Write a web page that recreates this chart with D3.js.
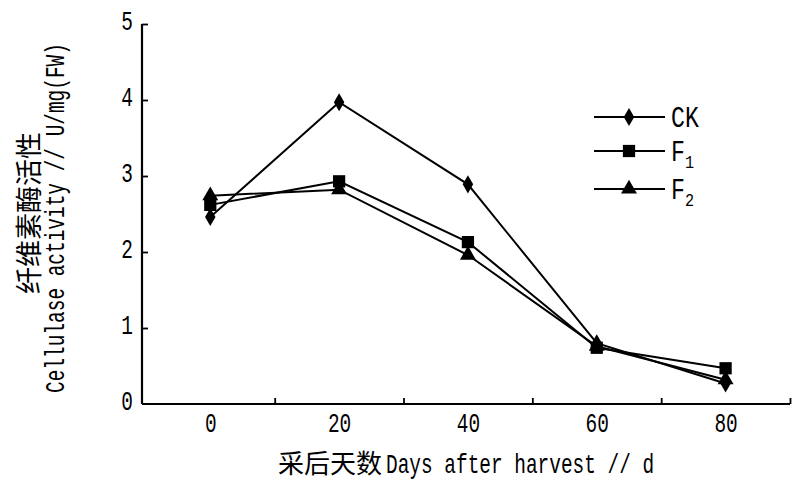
<!DOCTYPE html>
<html>
<head>
<meta charset="utf-8">
<script src="https://cdn.jsdelivr.net/npm/d3@7"></script>
<style>
  body { margin: 0; background: #fff; }
  svg { display: block; }
  text { fill: #000; }
</style>
</head>
<body>
<svg width="809" height="482"></svg>
<script>
let days = [0, 20, 40, 60, 80];
let ckValues = [2.46, 3.97, 2.89, 0.8, 0.27];
let f1Values = [2.62, 2.93, 2.13, 0.74, 0.47];
let f2Values = [2.74, 2.82, 1.96, 0.76, 0.32];
let xTickLabels = [0, 20, 40, 60, 80];
let xMinorTicks = [10, 30, 50, 70, 90];
let yTickLabels = [0, 1, 2, 3, 4, 5];

let series = [
  { name: "CK", sub: "", values: ckValues, symbol: d3.symbolDiamond, size: 95 },
  { name: "F", sub: "1", values: f1Values, symbol: d3.symbolSquare, size: 150 },
  { name: "F", sub: "2", values: f2Values, symbol: d3.symbolTriangle, size: 110 }
];

// the latin text in the original is a tall, narrow half-width face
let mono = "'Liberation Mono', 'DejaVu Sans Mono', monospace";
let cjk = "'Noto Sans CJK SC', sans-serif";
let squeeze = 0.72;
let fs = 27;

let svg = d3.select("svg");

let x = d3.scaleLinear().domain([-10.6, 90]).range([142, 790]);
let y = d3.scaleLinear().domain([0, 5]).range([404, 24]);

// x axis: labelled ticks without marks, plus small inward marks in between
let xAxis = svg.append("g").attr("transform", "translate(0,404)")
  .call(d3.axisBottom(x).tickValues(xTickLabels).tickSize(0).tickFormat(d3.format("d")));
xAxis.select(".domain").attr("d", "M142,0H790").attr("stroke-width", 2.2);
xAxis.selectAll("text")
  .attr("font-family", mono).attr("font-size", fs)
  .attr("y", 28).attr("dy", 0)
  .attr("transform", "scale(" + squeeze + ",1)");

let xMinor = svg.append("g").attr("transform", "translate(0,404)")
  .call(d3.axisTop(x).tickValues(xMinorTicks).tickSize(6).tickFormat(""));
xMinor.select(".domain").remove();
xMinor.selectAll("line").attr("stroke-width", 1.8);

// y axis with short inward ticks
let yAxis = svg.append("g").attr("transform", "translate(142,0)")
  .call(d3.axisRight(y).tickValues(yTickLabels).tickSizeInner(6).tickSizeOuter(0).tickFormat(d3.format("d")));
yAxis.select(".domain").attr("d", "M0,404V24").attr("stroke-width", 2.2);
yAxis.selectAll("line").attr("stroke-width", 1.8);
yAxis.selectAll(".tick").filter(d => d === 0).select("line").remove();
yAxis.selectAll("text")
  .attr("text-anchor", "end").attr("x", -9 / squeeze).attr("dy", 0).attr("y", 5)
  .attr("font-family", mono).attr("font-size", fs)
  .attr("transform", "scale(" + squeeze + ",1)");

// axis titles
svg.append("text")
  .attr("transform", "translate(39,213) rotate(-90)")
  .attr("text-anchor", "middle")
  .attr("font-family", cjk).attr("font-size", 27)
  .text("纤维素酶活性");
svg.append("text")
  .attr("transform", "translate(64,218) rotate(-90) scale(" + squeeze + ",1)")
  .attr("text-anchor", "middle")
  .attr("font-family", mono).attr("font-size", fs)
  .text("Cellulase activity // U/mg(FW)");

svg.append("text")
  .attr("x", 278).attr("y", 473)
  .attr("font-family", cjk).attr("font-size", 26)
  .text("采后天数");
svg.append("text")
  .attr("transform", "translate(386,473) scale(" + squeeze + ",1)")
  .attr("font-family", mono).attr("font-size", fs)
  .text("Days after harvest // d");

// series lines and markers
let line = d3.line().x((d, i) => x(days[i])).y(d => y(d));

series.forEach(function(s) {
  svg.append("path")
    .attr("d", line(s.values))
    .attr("fill", "none").attr("stroke", "#000").attr("stroke-width", 2);
  svg.selectAll(null).data(s.values).enter().append("path")
    .attr("transform", (d, i) => "translate(" + x(days[i]) + "," + y(d) + ")")
    .attr("d", d3.symbol().type(s.symbol).size(s.size))
    .attr("fill", "#000");
});

// legend
let legendY = [117, 151, 189];
series.forEach(function(s, i) {
  let g = svg.append("g").attr("transform", "translate(0," + legendY[i] + ")");
  g.append("line").attr("x1", 594).attr("x2", 665).attr("stroke", "#000").attr("stroke-width", 2);
  g.append("path").attr("transform", "translate(629,0)")
    .attr("d", d3.symbol().type(s.symbol).size(s.size)).attr("fill", "#000");
  let t = g.append("text").attr("transform", "translate(671,10) scale(0.8,1)")
    .attr("font-family", mono).attr("font-size", 29);
  t.append("tspan").text(s.name);
  if (s.sub) t.append("tspan").attr("font-size", 19).attr("dy", 7).text(s.sub);
});
</script>
</body>
</html>
